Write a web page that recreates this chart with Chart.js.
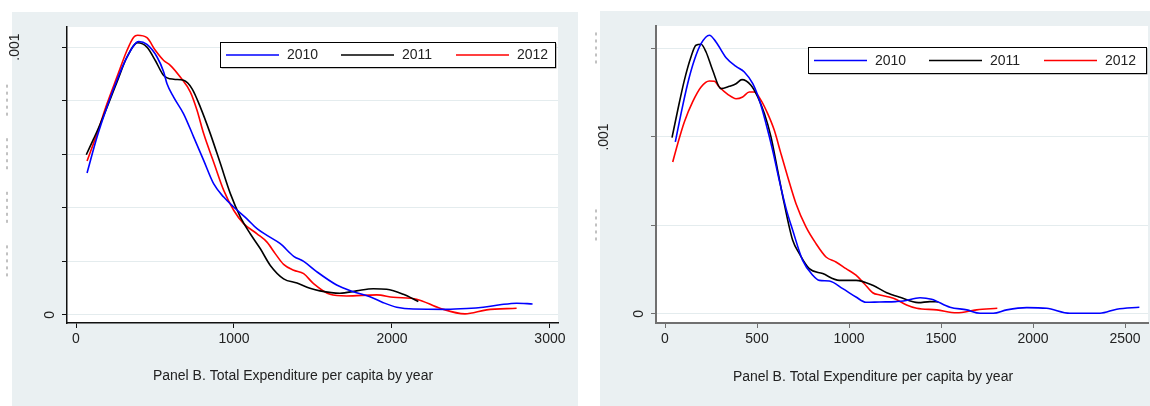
<!DOCTYPE html>
<html>
<head>
<meta charset="utf-8">
<title>Total Expenditure per capita by year</title>
<script src="https://cdn.jsdelivr.net/npm/chart.js@4.4.1/dist/chart.umd.min.js"></script>
<style>
  html, body { margin: 0; padding: 0; background: #fff; width: 1150px; height: 406px; overflow: hidden; }
  canvas { position: absolute; top: 0; }
  #left { left: 0; }
  #right { left: 580px; }
</style>
</head>
<body>
<canvas id="left" width="580" height="406"></canvas>
<canvas id="right" width="570" height="406"></canvas>
<script>
// ---- Kernel density estimates of per-capita expenditure ----
const years = ['2010', '2011', '2012'];
const yearColors = ['#0000ff', '#000000', '#ff0000'];
const titleText = 'Panel B. Total Expenditure per capita by year';

// Left panel
const leftX2010 = [70,133,196,259,323,397,449,513,555,576,618,681,745,808,871,935,998,1082,1146,1209,1293,1378,1441,1523,1650,1755,1861,1945,2030,2135,2346,2473,2578,2684,2789,2890];
const leftY2010 = [0.000530,0.000664,0.000776,0.000876,0.000963,0.001021,0.001010,0.000963,0.000907,0.000863,0.000813,0.000751,0.000664,0.000577,0.000490,0.000440,0.000403,0.000359,0.000322,0.000297,0.000266,0.000219,0.000200,0.000162,0.000112,0.000087,0.000068,0.000046,0.000029,0.000022,0.000021,0.000024,0.000029,0.000038,0.000044,0.000041];
const leftX2011 = [65,112,154,259,323,390,449,502,555,618,681,734,787,850,914,977,1040,1103,1167,1230,1314,1399,1481,1544,1671,1776,1882,1966,2072,2167];
const leftY2011 = [0.000598,0.000658,0.000714,0.000869,0.000963,0.001016,0.001000,0.000950,0.000894,0.000880,0.000876,0.000845,0.000776,0.000677,0.000565,0.000453,0.000366,0.000303,0.000247,0.000185,0.000135,0.000119,0.000100,0.000090,0.000081,0.000090,0.000098,0.000096,0.000077,0.000050];
const leftX2012 = [70,133,196,259,323,365,390,449,502,555,597,660,724,766,808,871,935,998,1061,1146,1209,1261,1314,1378,1441,1502,1608,1713,1903,2008,2156,2304,2462,2599,2789];
const leftY2012 = [0.000575,0.000677,0.000788,0.000888,0.000988,0.001037,0.001044,0.001035,0.000988,0.000950,0.000932,0.000888,0.000832,0.000764,0.000677,0.000571,0.000465,0.000391,0.000341,0.000303,0.000272,0.000229,0.000189,0.000167,0.000154,0.000118,0.000077,0.000071,0.000075,0.000066,0.000059,0.000025,0.000004,0.000019,0.000025];
const leftXTicks = [0, 1000, 2000, 3000];
const leftYTicks = [0, 0.0002, 0.0004, 0.0006, 0.0008, 0.001];
const leftYLabels = { 0: '0', 0.001: '.001' };

// Right panel
const rightX2010 = [56,87,123,159,196,241,277,332,386,431,477,513,549,585,621,658,694,748,803,839,893,966,1038,1092,1165,1255,1295,1386,1449,1549,1640,1712,1784,1857,1966,2074,2201,2364,2455,2578];
const rightY2010 = [0.000972,0.001132,0.001301,0.001433,0.001527,0.001575,0.001537,0.001448,0.001399,0.001367,0.001301,0.001207,0.001075,0.000925,0.000755,0.000595,0.000473,0.000303,0.000219,0.000190,0.000186,0.000143,0.000096,0.000066,0.000068,0.000070,0.000073,0.000092,0.000083,0.000038,0.000023,0.000004,0.000004,0.000023,0.000036,0.000032,0.000004,0.000004,0.000027,0.000038];
const rightX2011 = [38,69,105,141,168,196,223,259,304,350,386,418,467,504,540,576,612,648,694,730,784,857,947,1038,1129,1205,1277,1377,1440,1486];
const rightY2011 = [0.000996,0.001151,0.001320,0.001452,0.001518,0.001524,0.001480,0.001377,0.001273,0.001286,0.001301,0.001324,0.001292,0.001226,0.001132,0.001000,0.000812,0.000623,0.000416,0.000341,0.000256,0.000228,0.000190,0.000190,0.000162,0.000120,0.000094,0.000064,0.000070,0.000068];
const rightX2012 = [42,69,105,150,196,241,268,295,341,386,422,458,485,522,558,594,630,667,712,766,821,875,929,984,1038,1083,1129,1168,1241,1313,1368,1477,1585,1694,1806];
const rightY2012 = [0.000859,0.000962,0.001085,0.001198,0.001282,0.001316,0.001315,0.001282,0.001241,0.001216,0.001226,0.001254,0.001254,0.001207,0.001132,0.001038,0.000906,0.000774,0.000623,0.000492,0.000397,0.000322,0.000294,0.000256,0.000219,0.000171,0.000120,0.000107,0.000089,0.000051,0.000032,0.000023,0.000007,0.000023,0.000032];
const rightXTicks = [0, 500, 1000, 1500, 2000, 2500];
const rightYTicks = [0, 0.0005, 0.001, 0.0015];
const rightYLabels = { 0: '0', 0.001: '.001' };

const FONT_FAMILY = '"Liberation Sans", Arial, Helvetica, sans-serif';
const FONT_SIZE = 14;

function points(xs, ys) {
  return xs.map((x, i) => ({ x: x, y: ys[i] }));
}

function makeDatasets(pairs) {
  return pairs.map((p, i) => ({
    label: years[i],
    data: points(p[0], p[1]),
    borderColor: yearColors[i],
    borderWidth: 1.6,
    pointRadius: 0,
    fill: false,
    cubicInterpolationMode: 'monotone'
  }));
}

// Panel background, rotated y labels, in-plot legend and caption
const panelDecor = {
  id: 'panelDecor',
  beforeDraw(chart, args, o) {
    const ctx = chart.ctx, a = chart.chartArea;
    ctx.save();
    ctx.fillStyle = '#eaf0f2';
    ctx.fillRect(o.bg[0], o.bg[1], o.bg[2], o.bg[3]);
    ctx.fillStyle = '#ffffff';
    ctx.fillRect(a.left, a.top, a.right - a.left, a.bottom - a.top);
    ctx.restore();
  },
  afterDraw(chart, args, o) {
    const ctx = chart.ctx;
    const y = chart.scales.y;
    ctx.save();
    ctx.font = FONT_SIZE + 'px ' + FONT_FAMILY;
    ctx.fillStyle = '#222';
    ctx.textAlign = 'center';
    ctx.textBaseline = 'middle';
    // rotated tick labels
    o.yTicks.forEach(v => {
      const py = y.getPixelForValue(v);
      const txt = o.yLabels[v];
      if (txt !== undefined) {
        ctx.save();
        ctx.translate(o.yLabelX[txt], py);
        ctx.rotate(-Math.PI / 2);
        ctx.fillText(txt, 0, 0);
        ctx.restore();
      } else {
        ctx.save();
        ctx.strokeStyle = '#666';
        ctx.lineWidth = 0.8;
        ctx.setLineDash([3, 4]);
        ctx.beginPath();
        ctx.moveTo(o.dashX, py - 16);
        ctx.lineTo(o.dashX, py + 16);
        ctx.stroke();
        ctx.restore();
      }
    });

    // legend box
    const L = o.legend;
    ctx.fillStyle = '#8c8c8c';
    ctx.fillRect(L.x + 1.5, L.y + 1.5, L.w, L.h);
    ctx.fillStyle = '#ffffff';
    ctx.fillRect(L.x, L.y, L.w, L.h);
    ctx.strokeStyle = '#000';
    ctx.lineWidth = 1;
    ctx.strokeRect(L.x + 0.5, L.y + 0.5, L.w, L.h);
    const cy = L.y + L.h / 2 + 0.5;
    chart.data.datasets.forEach((ds, i) => {
      const x0 = L.x + 6 + i * 115;
      ctx.strokeStyle = ds.borderColor;
      ctx.lineWidth = 1.6;
      ctx.beginPath();
      ctx.moveTo(x0, cy);
      ctx.lineTo(x0 + 53, cy);
      ctx.stroke();
      ctx.fillStyle = '#222';
      ctx.textAlign = 'left';
      ctx.fillText(ds.label, x0 + 61, cy + 0.5);
    });

    // caption under the axis
    ctx.textAlign = 'center';
    ctx.fillStyle = '#222';
    ctx.fillText(titleText, o.title[0], o.title[1]);
    ctx.restore();
  }
};

function makeChart(id, datasets, cfg) {
  return new Chart(document.getElementById(id), {
    type: 'line',
    data: { datasets: datasets },
    options: {
      responsive: false,
      animation: false,
      events: [],
      layout: { padding: { top: cfg.padTop, right: cfg.padRight, left: 0, bottom: 0 } },
      scales: {
        x: {
          type: 'linear',
          min: cfg.xMin, max: cfg.xMax,
          afterBuildTicks: s => { s.ticks = cfg.xTicks.map(v => ({ value: v })); },
          afterFit: s => { s.height = cfg.xHeight; },
          border: { display: true, color: cfg.axisColor, width: cfg.axisWidth },
          grid: { drawOnChartArea: false, drawTicks: true, tickLength: 5, color: cfg.axisColor, tickColor: cfg.axisColor },
          ticks: {
            autoSkip: false, maxRotation: 0, minRotation: 0, padding: 3,
            color: '#222', font: { family: FONT_FAMILY, size: FONT_SIZE },
            callback: v => String(v)
          }
        },
        y: {
          type: 'linear',
          min: cfg.yMin, max: cfg.yMax,
          afterBuildTicks: s => { s.ticks = cfg.yTicks.map(v => ({ value: v })); },
          afterFit: s => { s.width = cfg.yWidth; },
          border: { display: true, color: cfg.axisColor, width: cfg.axisWidth },
          grid: { drawOnChartArea: true, drawTicks: true, tickLength: 5, color: '#e4ecee', tickColor: cfg.axisColor, lineWidth: 1 },
          ticks: { display: false }
        }
      },
      plugins: {
        legend: { display: false },
        tooltip: { enabled: false },
        panelDecor: {
          bg: cfg.bg,
          yTicks: cfg.yTicks,
          yLabels: cfg.yLabels,
          yLabelX: cfg.yLabelX,
          dashX: cfg.dashX,
          legend: cfg.legend,
          title: cfg.title
        }
      }
    },
    plugins: [panelDecor]
  });
}

makeChart('left', makeDatasets([[leftX2010, leftY2010], [leftX2011, leftY2011], [leftX2012, leftY2012]]), {
  padTop: 27, padRight: 22, xHeight: 83, yWidth: 67,
  xMin: -57, xMax: 3051, yMin: -0.00003, yMax: 0.001075,
  xTicks: leftXTicks, yTicks: leftYTicks, yLabels: leftYLabels,
  yLabelX: { '0': 50, '.001': 15 }, dashX: 7,
  axisColor: '#111', axisWidth: 1.5,
  bg: [12, 12, 566, 394],
  legend: { x: 220, y: 42, w: 335, h: 25 },
  title: [293, 376]
});

makeChart('right', makeDatasets([[rightX2010, rightY2010], [rightX2011, rightY2011], [rightX2012, rightY2012]]), {
  padTop: 26, padRight: 2, xHeight: 83, yWidth: 76,
  xMin: -49, xMax: 2625, yMin: -0.000051, yMax: 0.001627,
  xTicks: rightXTicks, yTicks: rightYTicks, yLabels: rightYLabels,
  yLabelX: { '0': 59, '.001': 24 }, dashX: 16,
  axisColor: '#707070', axisWidth: 2,
  bg: [20, 11, 550, 395],
  legend: { x: 228, y: 47, w: 338, h: 26 },
  title: [293, 377]
});
</script>
</body>
</html>
